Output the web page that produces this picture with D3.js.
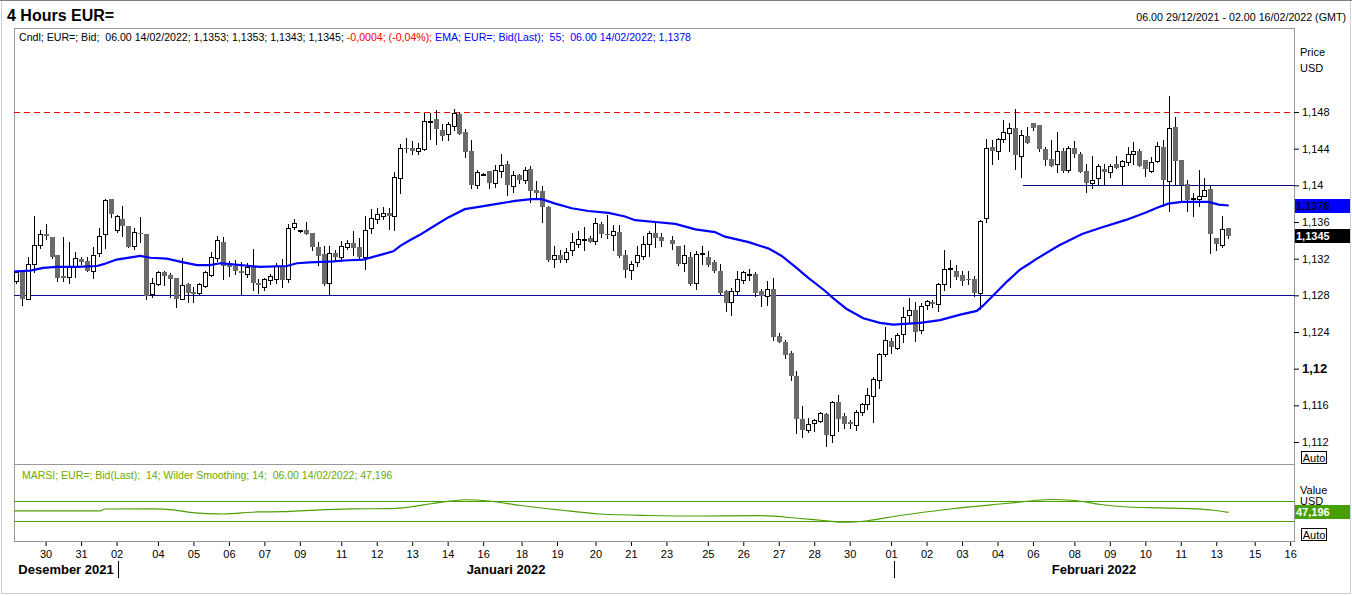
<!DOCTYPE html>
<html>
<head>
<meta charset="utf-8">
<script src="https://cdn.jsdelivr.net/npm/d3@7"></script>
<style>
  body { margin: 0; background: #fff; }
  svg { display: block; font-family: "Liberation Sans", Arial, sans-serif; }
  .tick text { font-size: 11px; fill: #000; }
  .tick line { stroke: #000; }
</style>
</head>
<body>
<svg id="chart" width="1352" height="596"></svg>
<script>
// 4h candles, EUR= bid, [open, high, low, close]; null = no bar
const ohlc = [
  [1.1296,1.1307,1.1294,1.1305],[1.1305,1.1305,1.1270,1.1276],[1.1276,1.1322,1.1276,1.1314],[1.1314,1.1367,1.1305,1.1335],
  [1.1335,1.1351,1.1332,1.1347],[1.1347,1.1358,1.1341,1.1345],[1.1344,1.1344,1.1321,1.1322],[1.1324,1.1324,1.1296,1.1299],
  [1.1301,1.1344,1.1296,1.1299],[1.1300,1.1338,1.1294,1.1312],[1.1312,1.1327,1.1300,1.1321],[1.1320,1.1322,1.1314,1.1316],
  [1.1317,1.1322,1.1306,1.1307],[1.1307,1.1333,1.1299,1.1324],[1.1326,1.1353,1.1323,1.1345],[1.1347,1.1385,1.1332,1.1384],
  [1.1385,1.1385,1.1365,1.1369],[1.1351,1.1368,1.1349,1.1367],[1.1363,1.1378,1.1345,1.1356],[1.1356,1.1356,1.1333,1.1333],
  [1.1334,1.1354,1.1331,1.1349],[1.1348,1.1365,1.1338,1.1347],[1.1347,1.1347,1.1276,1.1279],[1.1281,1.1299,1.1278,1.1293],
  [1.1292,1.1307,1.1291,1.1305],[1.1305,1.1307,1.1291,1.1301],[1.1302,1.1304,1.1278,1.1298],[1.1299,1.1299,1.1267,1.1276],
  [1.1276,1.1321,1.1276,1.1291],[1.1292,1.1294,1.1273,1.1283],[1.1284,1.1289,1.1273,1.1281],[1.1282,1.1293,1.1281,1.1292],
  [1.1290,1.1307,1.1289,1.1305],[1.1302,1.1327,1.1301,1.1322],[1.1321,1.1345,1.1318,1.1340],[1.1338,1.1344,1.1298,1.1312],
  [1.1314,1.1317,1.1301,1.1311],[1.1312,1.1319,1.1303,1.1306],[1.1306,1.1316,1.1281,1.1304],[1.1303,1.1315,1.1300,1.1311],
  [1.1311,1.1330,1.1286,1.1293],[1.1293,1.1298,1.1282,1.1291],[1.1289,1.1299,1.1286,1.1298],[1.1297,1.1303,1.1292,1.1301],
  [1.1298,1.1315,1.1294,1.1312],[1.1311,1.1320,1.1289,1.1297],[1.1298,1.1358,1.1295,1.1354],[1.1355,1.1363,1.1352,1.1359],
  [1.1350,1.1351,1.1349,1.1351],[1.1351,1.1360,1.1347,1.1347],[1.1348,1.1348,1.1329,1.1333],[1.1333,1.1338,1.1313,1.1323],
  [1.1325,1.1334,1.1291,1.1292],[1.1293,1.1334,1.1280,1.1326],[1.1326,1.1329,1.1317,1.1322],[1.1322,1.1339,1.1318,1.1334],
  [1.1333,1.1340,1.1331,1.1337],[1.1337,1.1350,1.1324,1.1332],[1.1333,1.1342,1.1320,1.1322],[1.1322,1.1367,1.1309,1.1351],
  [1.1353,1.1374,1.1348,1.1364],[1.1363,1.1375,1.1359,1.1369],[1.1367,1.1376,1.1363,1.1370],[1.1370,1.1375,1.1352,1.1366],
  [1.1366,1.1415,1.1351,1.1409],[1.1408,1.1445,1.1392,1.1441],[1.1441,1.1452,1.1436,1.1440],[1.1441,1.1448,1.1434,1.1438],
  [1.1437,1.1446,1.1434,1.1441],[1.1440,1.1479,1.1439,1.1470],[1.1469,1.1479,1.1451,1.1470],[1.1472,1.1482,1.1445,1.1461],
  [1.1460,1.1467,1.1449,1.1454],[1.1456,1.1469,1.1449,1.1467],[1.1465,1.1483,1.1460,1.1479],[1.1478,1.1480,1.1456,1.1456],
  [1.1458,1.1461,1.1431,1.1436],[1.1437,1.1449,1.1397,1.1400],[1.1400,1.1417,1.1397,1.1415],[1.1411,1.1413,1.1411,1.1412],
  [1.1416,1.1416,1.1397,1.1402],[1.1402,1.1422,1.1398,1.1417],[1.1416,1.1434,1.1409,1.1422],[1.1423,1.1426,1.1389,1.1400],
  [1.1399,1.1416,1.1393,1.1411],[1.1411,1.1412,1.1402,1.1406],[1.1406,1.1420,1.1403,1.1417],[1.1418,1.1421,1.1382,1.1394],
  [1.1395,1.1405,1.1386,1.1392],[1.1394,1.1399,1.1360,1.1376],[1.1376,1.1377,1.1317,1.1319],[1.1320,1.1334,1.1311,1.1324],
  [1.1324,1.1329,1.1316,1.1319],[1.1320,1.1332,1.1316,1.1327],[1.1329,1.1348,1.1324,1.1338],[1.1336,1.1350,1.1333,1.1341],
  [1.1340,1.1355,1.1329,1.1341],[1.1342,1.1345,1.1338,1.1338],[1.1339,1.1364,1.1336,1.1359],[1.1358,1.1360,1.1344,1.1347],
  [1.1347,1.1368,1.1343,1.1346],[1.1346,1.1357,1.1329,1.1350],[1.1349,1.1357,1.1322,1.1323],[1.1324,1.1329,1.1300,1.1308],
  [1.1308,1.1317,1.1298,1.1314],[1.1316,1.1334,1.1312,1.1324],[1.1323,1.1345,1.1320,1.1336],[1.1336,1.1350,1.1323,1.1348],
  [1.1348,1.1361,1.1333,1.1343],[1.1344,1.1348,1.1334,1.1339],null,[1.1340,1.1345,1.1330,1.1336],
  [1.1334,1.1334,1.1313,1.1314],[1.1315,1.1335,1.1307,1.1324],[1.1322,1.1327,1.1291,1.1292],[1.1293,1.1328,1.1287,1.1325],
  [1.1325,1.1334,1.1314,1.1326],[1.1322,1.1328,1.1312,1.1313],[1.1316,1.1319,1.1305,1.1307],[1.1307,1.1314,1.1281,1.1282],
  [1.1285,1.1286,1.1263,1.1272],[1.1273,1.1288,1.1259,1.1285],[1.1285,1.1306,1.1281,1.1298],[1.1297,1.1306,1.1293,1.1305],
  [1.1302,1.1309,1.1297,1.1303],[1.1303,1.1305,1.1279,1.1283],[1.1285,1.1287,1.1268,1.1279],[1.1279,1.1296,1.1270,1.1287],
  [1.1287,1.1299,1.1231,1.1235],[1.1236,1.1239,1.1229,1.1229],[1.1229,1.1231,1.1212,1.1215],[1.1217,1.1219,1.1188,1.1192],
  [1.1192,1.1198,1.1130,1.1145],[1.1145,1.1159,1.1126,1.1133],[1.1133,1.1146,1.1131,1.1140],[1.1141,1.1145,1.1132,1.1144],
  [1.1143,1.1153,1.1142,1.1152],[1.1151,1.1152,1.1116,1.1128],[1.1128,1.1165,1.1120,1.1164],[1.1164,1.1171,1.1132,1.1145],
  [1.1148,1.1152,1.1135,1.1140],[1.1142,1.1144,1.1135,1.1140],[1.1139,1.1155,1.1133,1.1153],[1.1153,1.1163,1.1149,1.1161],
  [1.1161,1.1179,1.1156,1.1171],[1.1170,1.1191,1.1142,1.1189],[1.1188,1.1217,1.1179,1.1216],[1.1216,1.1245,1.1214,1.1231],
  [1.1230,1.1234,1.1217,1.1224],[1.1223,1.1239,1.1221,1.1237],[1.1238,1.1267,1.1229,1.1256],[1.1259,1.1277,1.1251,1.1264],
  [1.1264,1.1273,1.1230,1.1240],[1.1242,1.1272,1.1239,1.1268],[1.1269,1.1275,1.1265,1.1274],[1.1273,1.1275,1.1267,1.1271],
  [1.1271,1.1294,1.1263,1.1292],[1.1292,1.1329,1.1286,1.1309],[1.1309,1.1319,1.1289,1.1310],[1.1307,1.1313,1.1298,1.1300],
  [1.1302,1.1306,1.1291,1.1296],[1.1298,1.1307,1.1292,1.1297],[1.1298,1.1301,1.1279,1.1282],[1.1282,1.1362,1.1265,1.1361],
  [1.1364,1.1451,1.1360,1.1441],[1.1442,1.1449,1.1423,1.1437],[1.1437,1.1452,1.1429,1.1451],[1.1451,1.1471,1.1447,1.1458],
  [1.1457,1.1468,1.1438,1.1462],[1.1462,1.1483,1.1418,1.1433],[1.1432,1.1460,1.1409,1.1455],[1.1454,1.1464,1.1446,1.1446],
  [1.1468,1.1468,1.1460,1.1463],[1.1466,1.1466,1.1437,1.1440],[1.1440,1.1442,1.1422,1.1428],[1.1429,1.1449,1.1421,1.1421],
  [1.1423,1.1458,1.1414,1.1438],[1.1438,1.1441,1.1414,1.1416],[1.1417,1.1443,1.1415,1.1441],[1.1441,1.1448,1.1431,1.1434],
  [1.1434,1.1436,1.1414,1.1415],[1.1416,1.1423,1.1393,1.1403],[1.1403,1.1432,1.1397,1.1406],[1.1408,1.1423,1.1400,1.1421],
  [1.1418,1.1423,1.1400,1.1414],[1.1415,1.1423,1.1409,1.1421],[1.1423,1.1432,1.1419,1.1419],[1.1421,1.1428,1.1400,1.1426],
  [1.1425,1.1442,1.1422,1.1434],[1.1434,1.1447,1.1423,1.1437],[1.1437,1.1440,1.1421,1.1421],[1.1428,1.1428,1.1410,1.1418],
  [1.1416,1.1431,1.1414,1.1425],[1.1426,1.1447,1.1425,1.1443],[1.1442,1.1449,1.1378,1.1406],[1.1405,1.1497,1.1372,1.1463],
  [1.1464,1.1475,1.1401,1.1426],[1.1428,1.1428,1.1382,1.1400],[1.1401,1.1406,1.1372,1.1384],[1.1386,1.1392,1.1366,1.1386],
  [1.1385,1.1417,1.1378,1.1388],[1.1388,1.1408,1.1388,1.1395],[1.1396,1.1399,1.1326,1.1347],[1.1342,1.1342,1.1329,1.1336],
  [1.1335,1.1367,1.1333,1.1352],[1.1353,1.1353,1.1343,1.1345]
];

// EMA(55): bar index -> value
const emaIdx = [-0.35,2.4,4.6,6.9,10.3,13.7,14.8,17,21,22.7,25.5,28.3,30.6,32.8,34.5,36.2,39.6,41.3,45.8,47.5,49.7,53.7,55.4,58.7,
  62.1,63.8,65,66.6,68.3,70.3,73.1,75.9,78.8,81.6,84.4,87.2,88.9,91.2,94,96.8,100.2,103,104.7,108.1,111.5,114.9,118.2,119.9,
  123.9,127.3,129.5,131.8,134,136.8,138.2,140.5,143.3,146.1,148.4,152.9,156.3,159.7,162.5,163.6,165.3,167.6,169.8,171.5,
  172.4,176.3,180.3,183.6,187.6,191,193.2,194.9,197.2,201.7,203.4,205.1];
const emaVal = [1.1306,1.1307,1.1310,1.1311,1.1311,1.1312,1.1314,1.1319,1.1323,1.1321,1.1320,1.1316,1.1313,1.1313,1.1315,
  1.1314,1.1312,1.1311,1.1312,1.1315,1.1316,1.1317,1.1318,1.1319,1.1325,1.1328,1.1334,1.1340,1.1346,1.1354,1.1365,1.1374,
  1.1377,1.1380,1.1383,1.1385,1.1385,1.1380,1.1375,1.1372,1.1370,1.1366,1.1362,1.1360,1.1358,1.1352,1.1349,1.1344,1.1338,
  1.1331,1.1323,1.1311,1.1299,1.1285,1.1277,1.1265,1.1255,1.1250,1.1248,1.1250,1.1253,1.1259,1.1263,1.1269,1.1280,1.1295,
  1.1308,1.1315,1.1319,1.1334,1.1347,1.1354,1.1362,1.1370,1.1376,1.1380,1.1382,1.1382,1.1379,1.1378];

// MARSI(14)
const rsiIdx = [-0.35,14.2,15,23.2,26.6,29.4,32.3,35,40.8,45.2,49.7,56.5,63.3,66.6,70.5,73.4,76,80,85.3,92,98.8,107,115.7,
  125.8,132.6,137,140.2,144,149.5,158,166.4,170,174.9,179,183.4,188,193.5,199.4,202.5,205.1];
const rsiVal = [50.1,50.1,54,54.2,52.1,47.3,44.6,44,48.1,48.7,51.3,54.2,54.8,58,65,69.6,72.5,70,61,52,44,41,40,40.6,35,30.5,
  27.5,30.5,41,54,64,68,73,71,63,58,56.2,54.2,51.5,47.2];

const priceTicks = [1.112, 1.116, 1.12, 1.124, 1.128, 1.132, 1.136, 1.14, 1.144, 1.148];
const dayLabels = ["30","31","02","04","05","06","07","09","11","12","13","14","16","18","19","20","21","23",
  "25","26","27","28","30","01","02","03","04","06","08","09","10","11","13","15","16"];
const dayIdx = [5,11,17,24,30,36,42,48,55,61,67,73,79,85.5,91.5,98,104,110,117,123,129,135,141,148,154,160,166,172,
  179,185,191,197,203,209.5,215.5];
const monthNames = ["Desember 2021", "Januari 2022", "Februari 2022"];
const monthBreaks = [17.25, 148.5];

const resistance = 1.148, support = 1.128, midLevel = 1.14, midLevelFrom = 170.3;
const emaLast = 1.1378, closeLast = 1.1345, rsiLast = 47.196;
const rsiBands = [30, 70];

const svg = d3.select("#chart");
const W = 1352;
const pL = 14, pR = 1294, pT = 28, pSplit = 464, pB = 541;

const x = d3.scaleLinear().domain([-0.35, 216.15]).range([pL, pR]);
const y = d3.scaleLinear().domain([1.112, 1.148]).range([442, 112]);
const yR = d3.scaleLinear().domain([30, 70]).range([521, 501]);

const loc = d3.formatLocale({ decimal: ",", thousands: ".", grouping: [3], currency: ["", ""] });
const fmt3 = loc.format(".3~f");

// outer window border
svg.append("rect").attr("x", 1.5).attr("y", 0.5).attr("width", W - 3).attr("height", 593)
  .attr("fill", "none").attr("stroke", "#d0d0d0");
svg.append("line").attr("x1", 0).attr("x2", W).attr("y1", 0.5).attr("y2", 0.5).attr("stroke", "#808080");

const defs = svg.append("defs");
defs.append("clipPath").attr("id", "clipMain")
  .append("rect").attr("x", pL).attr("y", pT).attr("width", pR - pL).attr("height", pSplit - pT);
defs.append("clipPath").attr("id", "clipRsi")
  .append("rect").attr("x", pL).attr("y", pSplit).attr("width", pR - pL).attr("height", pB - pSplit);

// titles
svg.append("text").attr("x", 7).attr("y", 21).attr("font-size", 16).attr("font-weight", "bold")
  .text("4 Hours EUR=");
svg.append("text").attr("x", 1346).attr("y", 21).attr("font-size", 10.7).attr("text-anchor", "end")
  .text("06.00 29/12/2021 - 02.00 16/02/2022 (GMT)");

// frame
const frame = svg.append("g").attr("stroke", "#999").attr("shape-rendering", "crispEdges");
frame.append("line").attr("x1", pL).attr("x2", pR).attr("y1", pT + 0.5).attr("y2", pT + 0.5);
frame.append("line").attr("x1", pL).attr("x2", pR).attr("y1", pSplit + 0.5).attr("y2", pSplit + 0.5);
frame.append("line").attr("x1", pL).attr("x2", pR).attr("y1", pB + 0.5).attr("y2", pB + 0.5);
frame.append("line").attr("x1", pL + 0.5).attr("x2", pL + 0.5).attr("y1", pT).attr("y2", pB + 1);
frame.append("line").attr("x1", pR + 0.5).attr("x2", pR + 0.5).attr("y1", pT).attr("y2", pB + 1);

// info line
const info = svg.append("text").attr("x", 19).attr("y", 41).attr("font-size", 10.6).style("white-space", "pre");
info.append("tspan").attr("fill", "#000")
  .text("Cndl; EUR=; Bid;  06.00 14/02/2022; 1,1353; 1,1353; 1,1343; 1,1345; ");
info.append("tspan").attr("fill", "#ff0000").text("-0,0004; (-0,04%); ");
info.append("tspan").attr("fill", "#0000ff").text("EMA; EUR=; Bid(Last);  55;  06.00 14/02/2022; 1,1378");

const main = svg.append("g").attr("clip-path", "url(#clipMain)");

// level lines
main.append("line").attr("x1", pL).attr("x2", pR).attr("y1", Math.round(y(resistance)) + 0.5)
  .attr("y2", Math.round(y(resistance)) + 0.5)
  .attr("stroke", "#ff0000").attr("stroke-dasharray", "6,4").attr("shape-rendering", "crispEdges");
main.append("line").attr("x1", pL).attr("x2", pR).attr("y1", Math.round(y(support)) + 0.5)
  .attr("y2", Math.round(y(support)) + 0.5).attr("stroke", "#0a0aa0").attr("shape-rendering", "crispEdges");
main.append("line").attr("x1", x(midLevelFrom)).attr("x2", pR).attr("y1", Math.round(y(midLevel)) + 0.5)
  .attr("y2", Math.round(y(midLevel)) + 0.5).attr("stroke", "#000080").attr("shape-rendering", "crispEdges");

// candles
const bars = ohlc.map((d, i) => d && { i, o: d[0], h: d[1], l: d[2], c: d[3] }).filter(Boolean);
const cg = main.append("g").attr("shape-rendering", "crispEdges");
const candle = cg.selectAll("g").data(bars).enter().append("g");
candle.append("line")
  .attr("x1", d => Math.round(x(d.i)) + 0.5).attr("x2", d => Math.round(x(d.i)) + 0.5)
  .attr("y1", d => Math.round(y(d.h))).attr("y2", d => Math.round(y(d.l)) + 1)
  .attr("stroke", "#000");
candle.append("rect")
  .attr("x", d => d.c >= d.o ? Math.round(x(d.i)) - 1.5 : Math.round(x(d.i)) - 2)
  .attr("y", d => {
    const t = Math.round(y(Math.max(d.o, d.c)));
    return d.c >= d.o ? t + 0.5 : t;
  })
  .attr("width", d => d.c >= d.o ? 4 : 5)
  .attr("height", d => {
    const h = Math.round(y(Math.min(d.o, d.c))) - Math.round(y(Math.max(d.o, d.c)));
    return Math.max(h, 1);
  })
  .attr("fill", d => d.c >= d.o ? "#fff" : "#6b6b6b")
  .attr("stroke", d => d.c >= d.o ? "#000" : "none");

// EMA
main.append("path")
  .datum(emaIdx.map((d, k) => [d, emaVal[k]]))
  .attr("fill", "none").attr("stroke", "#0000ff").attr("stroke-width", 2.2)
  .attr("d", d3.line().x(d => x(d[0])).y(d => y(d[1])));

// price axis
const ya = svg.append("g").attr("transform", `translate(${pR},0)`)
  .call(d3.axisRight(y).tickValues(priceTicks).tickSize(5).tickPadding(3).tickFormat(fmt3));
ya.select(".domain").remove();
ya.selectAll(".tick").filter(d => d === 1.12).select("text")
  .attr("font-weight", "bold").style("font-size", "13px");

svg.append("text").attr("x", 1300).attr("y", 56).attr("font-size", 11).text("Price");
svg.append("text").attr("x", 1300).attr("y", 72).attr("font-size", 11).text("USD");

// last value tags
function tag(yy, fill, color, label) {
  svg.append("rect").attr("x", pR + 1).attr("y", Math.round(yy) - 7).attr("width", W - pR - 3)
    .attr("height", 14).attr("fill", fill);
  svg.append("text").attr("x", pR + 2).attr("y", Math.round(yy) + 4).attr("font-size", 11)
    .attr("font-weight", "bold").attr("fill", color).text(label);
}

function autoBox(yy) {
  svg.append("rect").attr("x", 1301.5).attr("y", yy + 0.5).attr("width", 25).attr("height", 12)
    .attr("fill", "#fff").attr("stroke", "#000");
  svg.append("text").attr("x", 1314).attr("y", yy + 10.5).attr("font-size", 11)
    .attr("text-anchor", "middle").text("Auto");
}

tag(y(emaLast), "#0000ff", "#000033", "1,1378");
tag(y(closeLast), "#000", "#fff", "1,1345");
autoBox(451);

// RSI panel
svg.append("text").attr("x", 22).attr("y", 479).attr("font-size", 10.5).attr("fill", "#6aab00")
  .style("white-space", "pre")
  .text("MARSI; EUR=; Bid(Last);  14; Wilder Smoothing; 14;  06.00 14/02/2022; 47,196");
const rg = svg.append("g").attr("clip-path", "url(#clipRsi)");
rg.selectAll("line.band").data(rsiBands).enter().append("line").attr("class", "band")
  .attr("x1", pL).attr("x2", pR)
  .attr("y1", d => Math.round(yR(d)) + 0.5).attr("y2", d => Math.round(yR(d)) + 0.5)
  .attr("stroke", "#4ca000").attr("shape-rendering", "crispEdges");
rg.append("path")
  .datum(rsiIdx.map((d, k) => [d, rsiVal[k]]))
  .attr("fill", "none").attr("stroke", "#4ca000").attr("stroke-width", 1.2)
  .attr("d", d3.line().x(d => x(d[0])).y(d => yR(d[1])).curve(d3.curveMonotoneX));

svg.append("text").attr("x", 1300).attr("y", 494).attr("font-size", 11).text("Value");
svg.append("text").attr("x", 1300).attr("y", 505).attr("font-size", 11).text("USD");
tag(yR(rsiLast), "#48a000", "#fff", "47,196");
autoBox(528);

// time axis
const xa = svg.append("g").attr("transform", `translate(0,${pB + 1})`)
  .call(d3.axisBottom(x).tickValues(dayIdx).tickSize(4).tickPadding(4).tickFormat((d, k) => dayLabels[k]));
xa.select(".domain").remove();

const bounds = [pL, ...monthBreaks.map(x), pR];
monthNames.forEach((m, k) => {
  svg.append("text").attr("x", (bounds[k] + bounds[k + 1]) / 2).attr("y", 574)
    .attr("text-anchor", "middle").attr("font-size", 13).attr("font-weight", "bold").text(m);
});
monthBreaks.forEach(b => {
  svg.append("line").attr("x1", Math.round(x(b)) + 0.5).attr("x2", Math.round(x(b)) + 0.5)
    .attr("y1", 561).attr("y2", 578).attr("stroke", "#000");
});
</script>
</body>
</html>
